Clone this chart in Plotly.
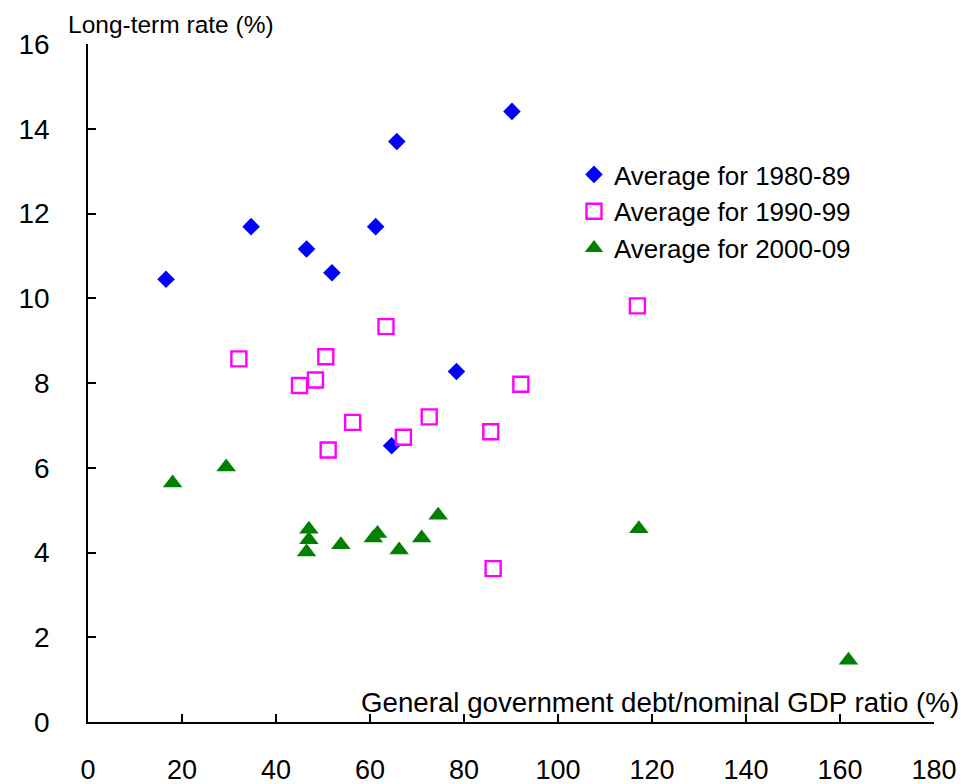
import plotly.graph_objects as go

# ---- data ----
debt_1980s = [16.6, 34.7, 46.5, 51.9, 61.2, 65.7, 90.2, 78.4, 64.6]
rate_1980s = [10.45, 11.69, 11.16, 10.60, 11.69, 13.70, 14.41, 8.27, 6.52]

debt_1990s = [32.1, 45.0, 48.4, 50.6, 63.4, 56.3, 51.1, 67.1, 72.6, 85.7, 92.1, 116.9, 86.2]
rate_1990s = [8.57, 7.94, 8.07, 8.62, 9.33, 7.07, 6.42, 6.72, 7.20, 6.85, 7.97, 9.82, 3.62]

debt_2000s = [18.0, 29.4, 47.0, 47.0, 46.5, 53.8, 60.7, 61.6, 66.2, 71.0, 74.5, 117.2, 161.8]
rate_2000s = [5.64, 6.02, 4.55, 4.30, 4.01, 4.18, 4.34, 4.45, 4.06, 4.34, 4.88, 4.56, 1.46]

series_names = ["Average for 1980-89", "Average for 1990-99", "Average for 2000-09"]
x_ticks = [0, 20, 40, 60, 80, 100, 120, 140, 160, 180]
y_ticks = [0, 2, 4, 6, 8, 10, 12, 14, 16]
x_title = "General government debt/nominal GDP ratio (%)"
y_title = "Long-term rate (%)"

FONT = "Liberation Sans, Arial, sans-serif"
OFF = 8  # page body margin
W, H = 973 - OFF, 784 - OFF
L, T = 88 - OFF, 44 - OFF
R = W - (934 - OFF)
B = H - (722 - OFF)
pw, ph = W - L - R, H - T - B


def px_x(win_x):
    return (win_x - OFF - L) / pw


def px_y(win_y):
    return (H - B - (win_y - OFF)) / ph


fig = go.Figure()
fig.add_trace(go.Scatter(
    x=debt_1980s, y=rate_1980s, mode="markers", name=series_names[0],
    marker=dict(symbol="diamond", size=13.5, color="#0000FF", line=dict(width=0)),
))
fig.add_trace(go.Scatter(
    x=debt_1990s, y=rate_1990s, mode="markers", name=series_names[1],
    marker=dict(symbol="square-open", size=15, color="#FF00FF", line=dict(width=2.4, color="#FF00FF")),
))
fig.add_trace(go.Scatter(
    x=debt_2000s, y=rate_2000s, mode="markers", name=series_names[2],
    marker=dict(symbol="triangle-up", size=17, color="#008000", line=dict(width=0)),
))

axis_common = dict(
    showgrid=False, zeroline=False, showline=True, linecolor="black", linewidth=1.6,
    ticks="inside", ticklen=8, tickwidth=1.6, tickcolor="black",
)

fig.update_xaxes(range=[0, 180], tickvals=x_ticks, ticklabelstandoff=23,
                 tickfont=dict(family=FONT, size=27, color="black"), **axis_common)
fig.update_yaxes(range=[0, 16], tickvals=y_ticks, ticklabelstandoff=31,
                 tickfont=dict(family=FONT, size=28, color="black"), **axis_common)

fig.update_layout(
    width=W, height=H,
    margin=dict(l=L, r=R, t=T, b=B, autoexpand=False),
    paper_bgcolor="white", plot_bgcolor="white",
    font=dict(family=FONT, color="black"),
    showlegend=True,
    legend=dict(
        x=px_x(574), y=px_y(151), xanchor="left", yanchor="top",
        bgcolor="rgba(0,0,0,0)", borderwidth=0,
        font=dict(family=FONT, size=26, color="black"),
        itemwidth=30, tracegroupgap=0,
    ),
    annotations=[
        dict(text=y_title, xref="paper", yref="paper",
             x=px_x(66), y=px_y(9), xanchor="left", yanchor="top",
             showarrow=False, font=dict(family=FONT, size=24.5, color="black")),
        dict(text=x_title, xref="paper", yref="paper",
             x=px_x(961), y=px_y(702), xanchor="right", yanchor="middle",
             showarrow=False, font=dict(family=FONT, size=27.7, color="black")),
    ],
)

fig.write_html("out.html")
